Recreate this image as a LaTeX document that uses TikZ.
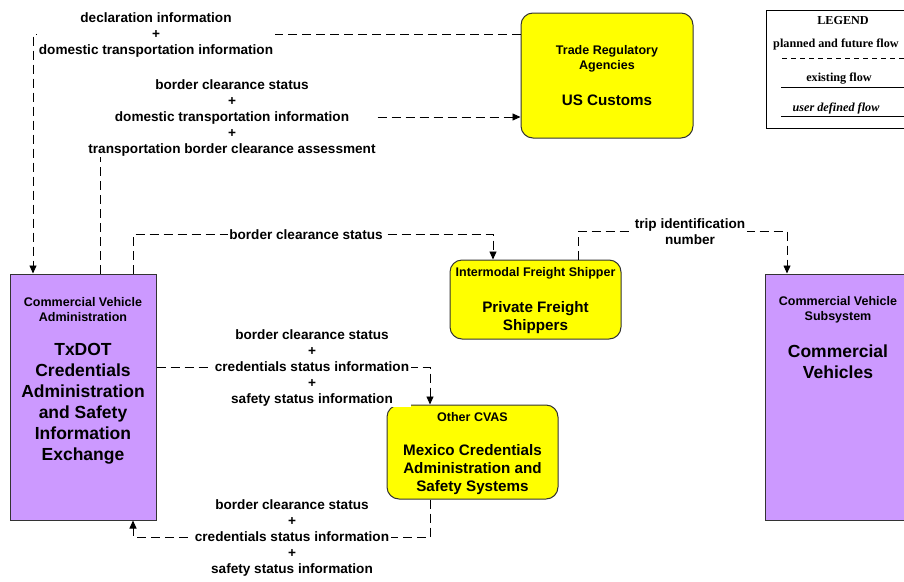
\documentclass[tikz,border=0pt]{standalone}
\usepackage{fontspec}
\setmainfont{Liberation Sans}
\newfontfamily\legfont{Liberation Serif}
\usetikzlibrary{arrows.meta}
\definecolor{vpurple}{HTML}{CC99FF}
\definecolor{vyellow}{HTML}{FFFF00}
\tikzset{
 flow/.style={draw=black, line width=0.9pt, dash pattern=on 9pt off 5pt},
 flowarrow/.style={flow, -{Triangle[length=8pt,width=7pt]}},
 lbl/.style={fill=white, inner sep=1.5pt, align=center, font=\fontsize{13.6}{16}\selectfont\bfseries},
 vbox/.style={draw=black!80, fill=vpurple, line width=1pt, minimum width=146pt, minimum height=246pt, inner sep=0pt},
 ybox/.style={draw=black!80, fill=vyellow, line width=1pt, rounded corners=12pt, inner sep=0pt},
 smalltxt/.style={align=center, inner sep=0pt, font=\fontsize{12.5}{15}\selectfont\bfseries},
 bigtxt/.style={align=center, inner sep=0pt, font=\fontsize{17.5}{21}\selectfont\bfseries},
 midtxt/.style={align=center, inner sep=0pt, font=\fontsize{15.2}{18}\selectfont\bfseries},
 legtxt/.style={inner sep=0pt, font=\legfont\fontsize{12.2}{14}\selectfont\bfseries},
 legline/.style={draw=black, line width=1pt},
}
\begin{document}
\begin{tikzpicture}[x=1pt,y=-1pt]
\useasboundingbox (0,0) rectangle (904,581);
\fill[white] (0,0) rectangle (904,581);
% boxes
\node[vbox] (tx) at (83,397) {};
\node[smalltxt] (txa) at (83,309.5) {Commercial Vehicle\\Administration};
\node[bigtxt] (txb) at (83,403.5) {TxDOT\\Credentials\\Administration\\and Safety\\Information\\Exchange};

\node[vbox, minimum width=146pt] (cv) at (838,397) {};
\node[smalltxt] (cva) at (838,309.5) {Commercial Vehicle\\Subsystem};
\node[bigtxt] (cvb) at (838,361.5) {Commercial\\Vehicles};

\node[ybox, minimum width=172pt, minimum height=125pt] (customs) at (607,75.5) {};
\node[smalltxt] (cua) at (607,58.5) {Trade Regulatory\\Agencies};
\node[midtxt] (cub) at (607,100) {US Customs};

\node[ybox, minimum width=171pt, minimum height=79pt] (ifs) at (535.5,299.5) {};
\node[smalltxt] (ifa) at (535.5,273) {Intermodal Freight Shipper};
\node[midtxt] (ifb) at (535.5,317.5) {Private Freight\\Shippers};

\node[ybox, minimum width=171pt, minimum height=94pt] (cvas) at (472.5,452) {};
\node[smalltxt] (cvsa) at (472.5,417) {Other CVAS};
\node[midtxt] (cvsb) at (472.5,469.5) {Mexico Credentials\\Administration and\\Safety Systems};

% flows
\coordinate (c1) at (33,34);
\draw[flowarrow] (customs.west |- c1) -- (c1) -- (tx.north -| c1);
\coordinate (c2) at (100,117);
\draw[flowarrow] (tx.north -| c2) -- (c2) -- (customs.west |- c2);
\coordinate (c3a) at (133,234);
\coordinate (c3b) at (493,234);
\draw[flowarrow] (tx.north -| c3a) -- (c3a) -- (c3b) -- (ifs.north -| c3b);
\coordinate (c4a) at (578,231);
\coordinate (c4b) at (787,231);
\draw[flowarrow] (ifs.north -| c4a) -- (c4a) -- (c4b) -- (cv.north -| c4b);
\coordinate (c5) at (430,367);
\draw[flowarrow] (tx.east |- c5) -- (c5) -- (cvas.north -| c5);
\coordinate (c6a) at (430,537);
\coordinate (c6b) at (133,537);
\draw[flowarrow] (cvas.south -| c6a) -- (c6a) -- (c6b) -- (tx.south -| c6b);

% labels
\node[lbl] (l1) at (156,35) {declaration information\\+\\domestic transportation information};
\node[lbl] (l2) at (232,117.5) {border clearance status\\+\\domestic transportation information\\+\\transportation border clearance assessment};
\node[lbl] (l3) at (306,235) {border clearance status};
\node[lbl] (l4) at (690,232) {trip identification\\number};
\node[lbl] (l5) at (312,367.5) {border clearance status\\+\\credentials status information\\+\\safety status information};
\node[lbl] (l6) at (292,538) {border clearance status\\+\\credentials status information\\+\\safety status information};

% legend
\node[draw=black, line width=1pt, minimum width=146pt, minimum height=118pt, inner sep=0pt] (leg) at (839,69) {};
\node[legtxt] (lgt) at (843,21) {LEGEND};
\node[legtxt] (lgp) at (836,45) {planned and future flow};
\coordinate (lg1) at (782,58);
\draw[legline, dash pattern=on 5pt off 4pt] (lg1) -- (leg.east |- lg1);
\node[legtxt] (lge) at (839,79) {existing flow};
\coordinate (lg2) at (781,87);
\draw[legline] (lg2) -- (leg.east |- lg2);
\node[legtxt] (lgu) at (836,109) {\itshape user defined flow};
\coordinate (lg3) at (781,116);
\draw[legline] (lg3) -- (leg.east |- lg3);
\end{tikzpicture}
\end{document}
